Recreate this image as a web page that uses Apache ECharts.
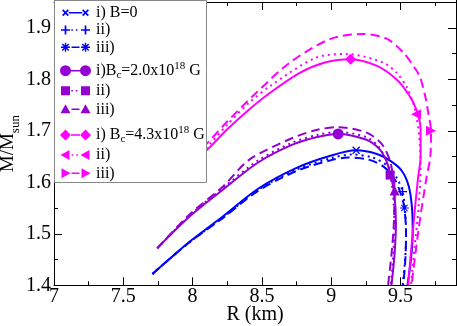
<!DOCTYPE html>
<html>
<head>
<meta charset="utf-8">
<script src="https://cdn.jsdelivr.net/npm/echarts@6/dist/echarts.min.js"></script>
<style>
html, body { margin: 0; padding: 0; background: #fff; }
#chart { width: 457px; height: 326px; }
</style>
</head>
<body>
<div id="chart"></div>
<script>
// mass-radius curves, points are [R (km), M/Msun]
// B = 0
const b0_i = [[7.71,1.422],[7.85,1.455],[7.98,1.485],[8.22,1.534],[8.47,1.587],[8.75,1.628],[9.0,1.652],[9.18,1.662],[9.33,1.655],[9.43,1.641],[9.51,1.622],[9.56,1.592],[9.583,1.55],[9.588,1.50],[9.575,1.45],[9.55,1.40]]
const b0_ii = [[7.71,1.422],[7.85,1.455],[7.98,1.484],[8.22,1.532],[8.47,1.585],[8.75,1.625],[9.0,1.647],[9.15,1.654],[9.30,1.648],[9.40,1.633],[9.47,1.610],[9.515,1.582],[9.535,1.54],[9.54,1.49],[9.53,1.44],[9.515,1.40]]
const b0_iii = [[7.71,1.422],[7.85,1.455],[7.98,1.484],[8.22,1.531],[8.47,1.583],[8.75,1.622],[9.0,1.643],[9.12,1.648],[9.27,1.644],[9.38,1.630],[9.46,1.605],[9.505,1.575],[9.528,1.55],[9.54,1.50],[9.535,1.45],[9.52,1.40]]
// Bc = 2.0x10^18 G
const b2_i = [[7.745,1.472],[7.98,1.534],[8.22,1.586],[8.47,1.638],[8.72,1.673],[8.90,1.688],[9.05,1.694],[9.25,1.683],[9.35,1.664],[9.40,1.640],[9.43,1.612],[9.455,1.579],[9.467,1.52],[9.457,1.46],[9.435,1.40]]
const b2_ii = [[7.745,1.472],[7.98,1.536],[8.22,1.589],[8.47,1.642],[8.72,1.677],[8.90,1.692],[9.05,1.698],[9.25,1.688],[9.34,1.670],[9.39,1.646],[9.425,1.614],[9.445,1.58],[9.455,1.52],[9.448,1.46],[9.43,1.40]]
const b2_iii = [[7.745,1.472],[7.98,1.538],[8.22,1.592],[8.41,1.644],[8.72,1.686],[8.90,1.702],[9.05,1.707],[9.25,1.697],[9.36,1.676],[9.42,1.645],[9.45,1.607],[9.457,1.584],[9.452,1.52],[9.435,1.46],[9.41,1.40]]
// Bc = 4.3x10^18 G (low-R end is hidden behind the legend)
const b4_i = [[8.00,1.636],[8.12,1.667],[8.25,1.703],[8.41,1.742],[8.55,1.772],[8.77,1.812],[8.96,1.833],[9.14,1.839],[9.33,1.826],[9.47,1.800],[9.56,1.770],[9.613,1.742],[9.645,1.703],[9.645,1.65],[9.625,1.605],[9.59,1.508],[9.555,1.40]]
const b4_ii = [[8.00,1.642],[8.12,1.673],[8.25,1.712],[8.41,1.755],[8.56,1.787],[8.89,1.842],[9.11,1.849],[9.37,1.833],[9.47,1.813],[9.545,1.785],[9.59,1.755],[9.612,1.732],[9.635,1.69],[9.645,1.63],[9.63,1.55],[9.60,1.47],[9.575,1.40]]
const b4_iii = [[8.00,1.648],[8.12,1.68],[8.25,1.718],[8.46,1.774],[8.70,1.832],[8.99,1.878],[9.23,1.888],[9.40,1.879],[9.52,1.852],[9.60,1.823],[9.64,1.805],[9.68,1.765],[9.70,1.735],[9.72,1.70],[9.715,1.65],[9.685,1.605],[9.63,1.508],[9.58,1.40]]

const curves = [b0_i, b0_ii, b0_iii, b2_i, b2_ii, b2_iii, b4_i, b4_ii, b4_iii]
// index of the point in each curve that carries the marker
const markerIndex = [7, 11, 12, 6, 10, 11, 7, 11, 13]
const seriesKeys = ['b0_i', 'b0_ii', 'b0_iii', 'b2_i', 'b2_ii', 'b2_iii', 'b4_i', 'b4_ii', 'b4_iii']
const legendLabels = ['i) B=0', 'ii)', 'iii)', 'i)B{sub|c}=2.0x10{sup|18} G', 'ii)', 'iii)', 'i) B{sub|c}=4.3x10{sup|18} G', 'ii)', 'iii)']

const xMin = 7, xMax = 10, xShown = 9.9, xStep = 0.5
const yMin = 1.4, yMax = 2.0, yShown = 1.95, yStep = 0.1

const BLUE = '#0000ff', VIOLET = '#9400d3', MAGENTA = '#ff00ff'
const colors = [BLUE, BLUE, BLUE, VIOLET, VIOLET, VIOLET, MAGENTA, MAGENTA, MAGENTA]
const lineKinds = ['solid', 'dotted', 'dashed', 'solid', 'dotted', 'dashed', 'solid', 'dotted', 'dashed']
const markers = ['cross', 'plus', 'star', 'circle', 'square', 'triangle', 'diamond', 'triLeft', 'triRight']
const markerSizes = [8, 9, 9, 11, 9, 10, 11, 10, 10]
const legendTops = [2.7, 20, 37.3, 60.7, 80.7, 99.3, 125, 145, 163.3]

const FONT = "'Liberation Serif', 'Times New Roman', 'DejaVu Serif', serif"

// thin bar centred on (cx,cy) along unit vector (dx,dy)
function bar(cx, cy, dx, dy, h, t) {
    const nx = -dy, ny = dx
    const p = [
        [cx + dx * h + nx * t, cy + dy * h + ny * t],
        [cx - dx * h + nx * t, cy - dy * h + ny * t],
        [cx - dx * h - nx * t, cy - dy * h - ny * t],
        [cx + dx * h - nx * t, cy + dy * h - ny * t]
    ]
    return 'M' + p.map(q => q[0].toFixed(2) + ' ' + q[1].toFixed(2)).join(' L') + ' Z '
}

function markerPath(kind, cx, cy, r) {
    const s = Math.SQRT1_2, t = 0.85
    switch (kind) {
        case 'cross': return bar(cx, cy, s, s, r, t) + bar(cx, cy, s, -s, r, t)
        case 'plus': return bar(cx, cy, 1, 0, r, t) + bar(cx, cy, 0, 1, r, t)
        case 'star': return bar(cx, cy, 1, 0, r, 0.7) + bar(cx, cy, 0, 1, r, 0.7) + bar(cx, cy, s, s, r, 0.7) + bar(cx, cy, s, -s, r, 0.7)
        case 'circle': return `M${cx + r} ${cy} A${r} ${r} 0 1 1 ${cx - r} ${cy} A${r} ${r} 0 1 1 ${cx + r} ${cy} Z `
        case 'square': return bar(cx, cy, 1, 0, r, r)
        case 'triangle': return `M${cx} ${cy - r} L${cx - r} ${cy + r * 0.8} L${cx + r} ${cy + r * 0.8} Z `
        case 'diamond': return `M${cx} ${cy - r} L${cx - r} ${cy} L${cx} ${cy + r} L${cx + r} ${cy} Z `
        case 'triLeft': return `M${cx - r} ${cy} L${cx + r * 0.8} ${cy + r} L${cx + r * 0.8} ${cy - r} Z `
        case 'triRight': return `M${cx + r} ${cy} L${cx - r * 0.8} ${cy - r} L${cx - r * 0.8} ${cy + r} Z `
    }
    return ''
}

function chartSymbol(kind) {
    return 'path://' + markerPath(kind, 6, 6, 6)
}

// legend icon: marker - line - marker, like the grace legend
function legendIcon(kind, lineKind, size) {
    const c1 = 5.5, c2 = 25.5, cy = 6, r = size / 2
    let p = 'M0 0 L0.01 0 L0.01 0.01 Z M30.99 11.99 L31 11.99 L31 12 Z '
    p += markerPath(kind, c1, cy, r) + markerPath(kind, c2, cy, r)
    const x0 = c1 + r * 0.8, x1 = c2 - r * 0.8
    if (lineKind === 'solid') {
        p += bar((x0 + x1) / 2, cy, 1, 0, (x1 - x0) / 2, 0.8)
    } else if (lineKind === 'dotted') {
        for (let x = x0 + 3; x < x1 - 1.5; x += 4.5) p += bar(x, cy, 1, 0, 0.8, 0.8)
    } else {
        p += bar((x0 + x1) / 2, cy, 1, 0, 4, 0.8)
    }
    return 'path://' + p
}

const dashOf = { solid: 'solid', dotted: [2, 4], dashed: [9, 5] }

const series = curves.map((pts, k) => ({
    name: seriesKeys[k],
    type: 'line',
    xAxisIndex: 0,
    yAxisIndex: 0,
    smooth: 0.3,
    showSymbol: true,
    symbol: chartSymbol(markers[k]),
    symbolSize: 0,
    itemStyle: { color: colors[k] },
    lineStyle: { color: colors[k], width: 2, type: dashOf[lineKinds[k]] },
    emphasis: { disabled: true },
    data: pts.map((p, i) => i === markerIndex[k] ? { value: p, symbolSize: markerSizes[k] } : p)
}))

const legends = seriesKeys.map((key, k) => ({
    left: 60,
    top: legendTops[k],
    padding: 0,
    itemGap: 0,
    itemWidth: 31,
    itemHeight: 12,
    selectedMode: false,
    z: 20,
    data: [{ name: key, icon: legendIcon(markers[k], lineKinds[k], markerSizes[k]), itemStyle: { color: colors[k], borderWidth: 0 } }],
    formatter: () => legendLabels[k],
    textStyle: {
        fontFamily: FONT, fontSize: 16, color: '#000', lineHeight: 20,
        rich: {
            sub: { fontFamily: FONT, fontSize: 11, lineHeight: 11, verticalAlign: 'bottom', color: '#000' },
            sup: { fontFamily: FONT, fontSize: 11, lineHeight: 11, verticalAlign: 'top', color: '#000' }
        }
    }
}))

const axisLineStyle = { color: '#000', width: 1 }
const ticks = { show: true, inside: true, length: 8, lineStyle: axisLineStyle }
const minor = { show: true, splitNumber: 2, length: 4, lineStyle: axisLineStyle }
const hidden = { axisLine: { show: false }, axisTick: { show: false }, axisLabel: { show: false }, splitLine: { show: false } }

const option = {
    animation: false,
    backgroundColor: '#fff',
    textStyle: { fontFamily: FONT },
    grid: [
        // main plot, stretched past the canvas so the ticks run out at 9.9 and 1.95
        { left: 54, right: -12.8, top: -23.7, bottom: 40.7, outerBoundsMode: 'none' },
        // top frame + y name
        { left: 54, right: -12.8, top: 2, bottom: 40.7, outerBoundsMode: 'none' },
        // right frame + x name
        { left: 54, right: 1, top: -23.7, bottom: 40.7, outerBoundsMode: 'none' }
    ],
    xAxis: [
        {
            gridIndex: 0, type: 'value', min: xMin, max: xMax, interval: xStep,
            axisLine: { show: true, onZero: false, lineStyle: axisLineStyle },
            axisTick: ticks, minorTick: minor, splitLine: { show: false },
            axisLabel: { fontFamily: FONT, fontSize: 20, color: '#000', margin: 1, showMaxLabel: false }
        },
        {
            gridIndex: 1, type: 'value', position: 'top', min: xMin, max: xMax, interval: xStep,
            axisLine: { show: true, onZero: false, lineStyle: axisLineStyle },
            axisTick: ticks, minorTick: minor, splitLine: { show: false }, axisLabel: { show: false }
        },
        Object.assign({
            gridIndex: 2, type: 'value', min: xMin, max: xShown,
            name: 'R (km)', nameLocation: 'middle', nameGap: 19,
            nameTextStyle: { fontFamily: FONT, fontSize: 20, color: '#000' }
        }, hidden)
    ],
    yAxis: [
        {
            gridIndex: 0, type: 'value', min: yMin, max: yMax, interval: yStep,
            axisLine: { show: true, onZero: false, lineStyle: axisLineStyle },
            axisTick: ticks, minorTick: minor, splitLine: { show: false },
            axisLabel: { fontFamily: FONT, fontSize: 20, color: '#000', margin: 3, showMaxLabel: false }
        },
        Object.assign({
            gridIndex: 1, type: 'value', min: yMin, max: yShown,
            name: 'M/M{sub|sun}', nameLocation: 'middle', nameGap: 32,
            nameTextStyle: {
                fontFamily: FONT, fontSize: 19, color: '#000', lineHeight: 28,
                rich: { sub: { fontFamily: FONT, fontSize: 13, lineHeight: 13, verticalAlign: 'bottom', color: '#000' } }
            }
        }, hidden),
        {
            gridIndex: 2, type: 'value', position: 'right', min: yMin, max: yMax, interval: yStep,
            axisLine: { show: true, onZero: false, lineStyle: axisLineStyle },
            axisTick: ticks, minorTick: minor, splitLine: { show: false }, axisLabel: { show: false }
        }
    ],
    legend: legends,
    graphic: [{
        type: 'rect', z: 10, silent: true,
        shape: { x: 54.5, y: 0.5, width: 152, height: 182 },
        style: { fill: '#fff', stroke: '#888', lineWidth: 1 }
    }],
    series: series
}

const chart = echarts.init(document.getElementById('chart'))
chart.setOption(option)
</script>
</body>
</html>
